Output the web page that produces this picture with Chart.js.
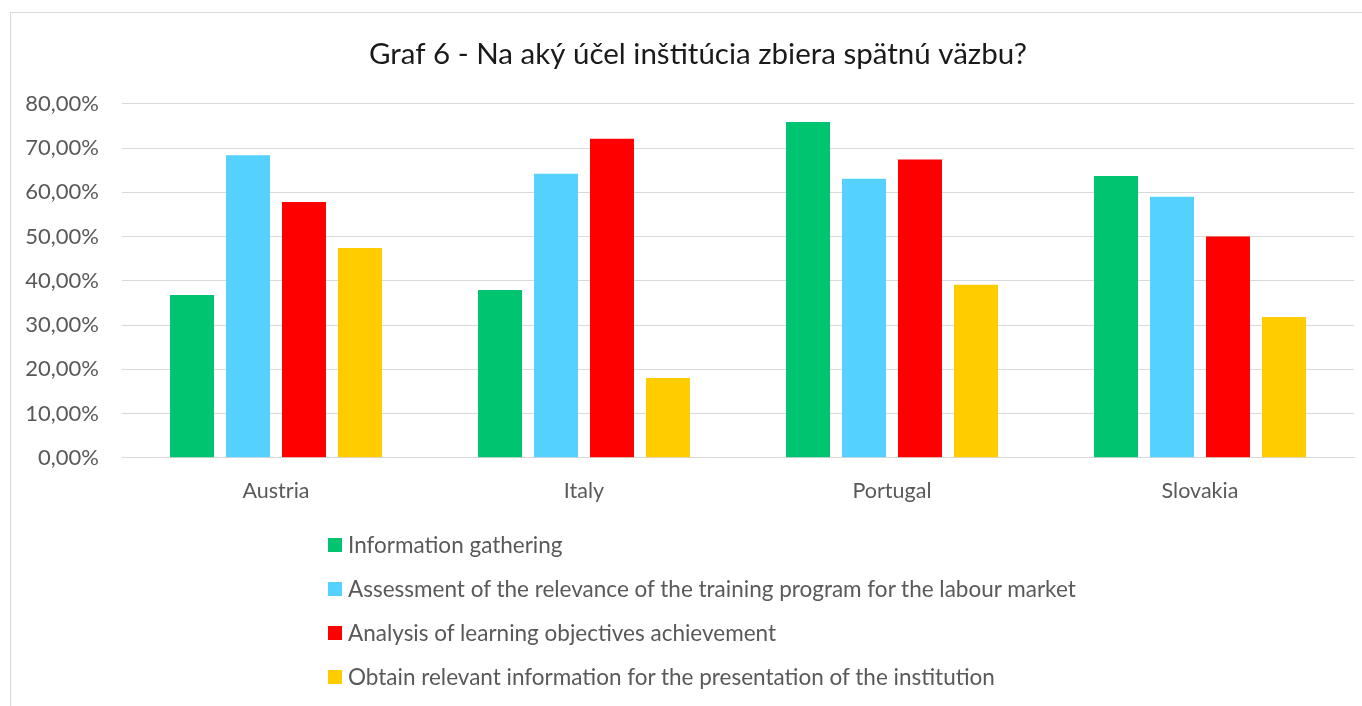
<!DOCTYPE html>
<html><head><meta charset="utf-8">
<script src="https://cdn.jsdelivr.net/npm/chart.js@4/dist/chart.umd.min.js"></script>
<style>
html,body{margin:0;padding:0;width:1362px;height:706px;overflow:hidden;background:#fff;font-family:Lato,"Noto Sans",sans-serif;}
#frame{position:absolute;left:10px;top:12px;width:1400px;height:800px;border:1px solid #d9d9d9;box-sizing:border-box;}
#wrap{position:absolute;left:10px;top:12px;width:1376px;height:520px;}
#legend{position:absolute;left:328px;top:523px;color:#595959;font-size:22.5px;}
#legend .row{height:44px;line-height:44px;white-space:nowrap;display:flex;align-items:center;}
#legend .box{width:14px;height:14px;margin-right:6px;display:inline-block;}
</style></head>
<body>
<div id="frame"></div>
<div id="wrap"><canvas id="c"></canvas></div>
<div id="legend"></div>
<script>
const categories = ['Austria', 'Italy', 'Portugal', 'Slovakia'];
const seriesNames = [
  'Information gathering',
  'Assessment of the relevance of the training program for the labour market',
  'Analysis of learning objectives achievement',
  'Obtain relevant information for the presentation of the institution'
];
const informationGathering = [36.8, 37.9, 75.9, 63.7];
const assessmentRelevance = [68.4, 64.2, 63.1, 59.0];
const analysisObjectives = [57.8, 72.1, 67.4, 50.0];
const obtainInformation = [47.4, 18.0, 39.1, 31.8];
const yTicks = [0, 10, 20, 30, 40, 50, 60, 70, 80];
const colors = ['#00C46F', '#55D1FF', '#FF0000', '#FFCC00'];
const titleText = 'Graf 6 - Na aký účel inštitúcia zbiera spätnú väzbu?';

const seriesValues = [informationGathering, assessmentRelevance, analysisObjectives, obtainInformation];
const datasets = seriesNames.map((name, i) => ({
  label: name,
  data: seriesValues[i],
  backgroundColor: colors[i],
  borderWidth: 0,
  categoryPercentage: 0.727,
  barPercentage: 0.786
}));

// Centre the title over the whole frame rather than over the padded area
const titleShift = {
  id: 'titleShift',
  afterLayout(chart) {
    const tb = chart.titleBlock;
    if (tb) { tb.left += 20; }
  }
};

const chart = new Chart(document.getElementById('c'), {
  type: 'bar',
  data: { labels: categories, datasets },
  plugins: [titleShift],
  options: {
    responsive: true,
    maintainAspectRatio: false,
    animation: false,
    layout: { padding: { left: 12, right: 32, top: 0, bottom: 8.5 } },
    plugins: {
      legend: { display: false },
      tooltip: { enabled: false },
      title: {
        display: true,
        text: titleText,
        color: '#1a1a1a',
        font: { family: 'Lato', size: 29.5, weight: 'normal' },
        padding: { top: 25, bottom: 31.5 }
      }
    },
    scales: {
      x: {
        grid: { display: false, drawTicks: false },
        border: { display: true, color: '#d9d9d9', width: 1 },
        ticks: { color: '#595959', font: { family: 'Lato', size: 21.5 }, padding: 20 }
      },
      y: {
        min: 0, max: 80,
        afterBuildTicks: (s) => { s.ticks = yTicks.map(v => ({ value: v })); },
        afterFit: (s) => { s.width = 100; },
        grid: { color: '#d9d9d9', lineWidth: 1, drawTicks: false },
        border: { display: false },
        ticks: {
          color: '#595959', font: { family: 'Lato', size: 22 }, padding: 23,
          callback: (v) => v.toFixed(2).replace('.', ',') + '%'
        }
      }
    }
  }
});

const lg = document.getElementById('legend');
chart.data.datasets.forEach(ds => {
  const row = document.createElement('div'); row.className = 'row';
  const box = document.createElement('span'); box.className = 'box'; box.style.background = ds.backgroundColor;
  const t = document.createElement('span'); t.textContent = ds.label;
  row.appendChild(box); row.appendChild(t); lg.appendChild(row);
});
</script>
</body></html>
